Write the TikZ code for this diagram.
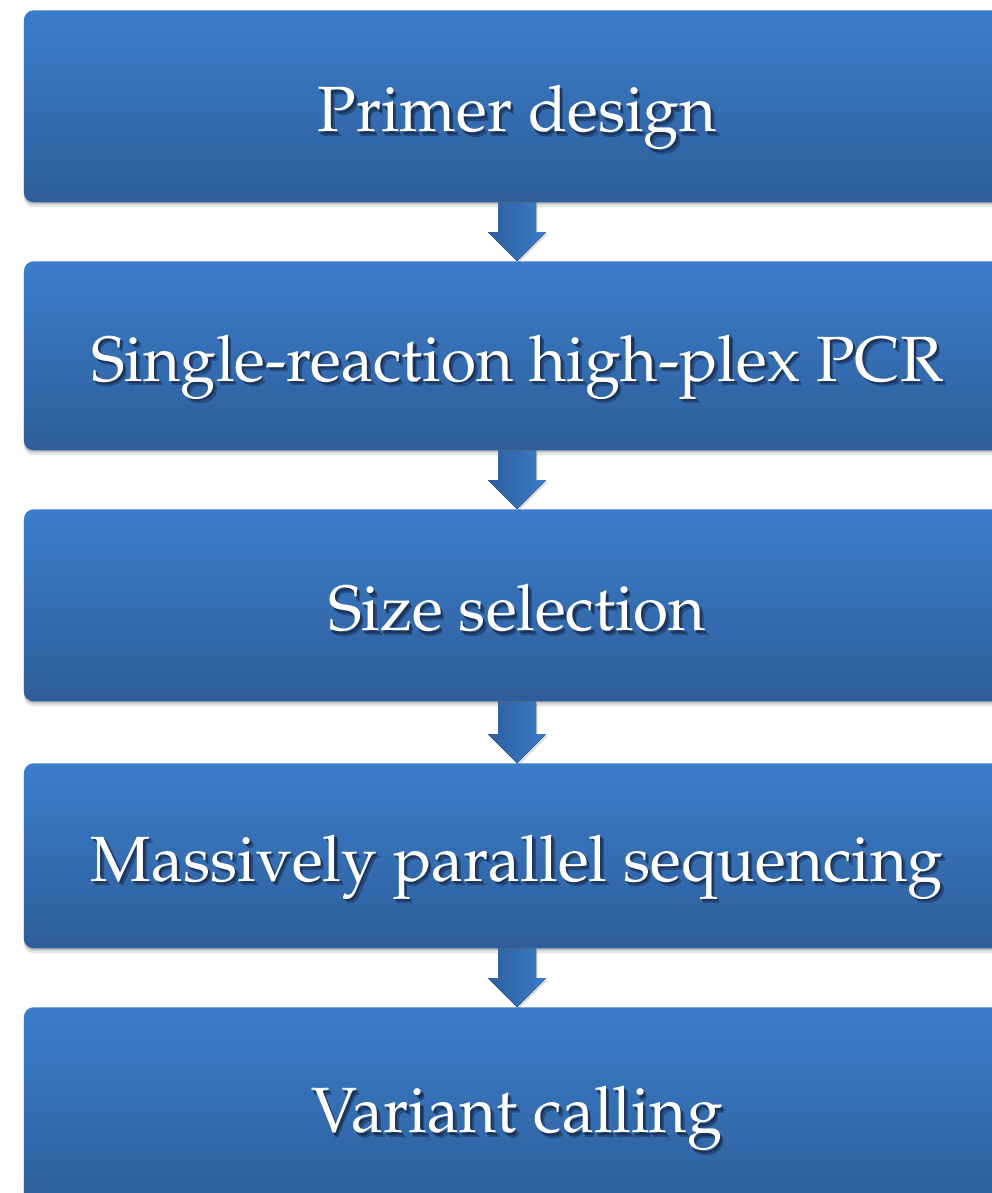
\documentclass[tikz,border=0pt]{standalone}
\usepackage[T1]{fontenc}
\renewcommand{\rmdefault}{ppl}
\usepackage{xcolor}
\usepackage{tikz}
\usetikzlibrary{calc, shadows}

\definecolor{boxtop}{RGB}{59,125,201}
\definecolor{boxbottom}{RGB}{46,94,155}
\definecolor{arrowleft}{RGB}{44,95,160}
\definecolor{arrowright}{RGB}{60,123,198}
\definecolor{txtshadow}{RGB}{26,52,92}

% white text with a soft dark shadow
\newcommand{\shadowtext}[1]{%
  \leavevmode
  \rlap{\hspace{2.6pt}\raisebox{-3.2pt}{\textcolor{txtshadow!45!boxbottom}{#1}}}%
  \rlap{\hspace{1.5pt}\raisebox{-2pt}{\textcolor{txtshadow}{#1}}}%
  \textcolor{white}{#1}}

\tikzset{
  stepbox/.style={rectangle, rounded corners=7pt, draw=none,
    top color=boxtop, bottom color=boxbottom,
    minimum width=24.65cm, anchor=north,
    text height=38pt, text depth=2pt,
    font=\fontsize{45.5}{55}\selectfont,
    drop shadow={shadow xshift=0pt, shadow yshift=-1.5pt, opacity=0.18, fill=black},
    drop shadow={shadow xshift=0pt, shadow yshift=-3.5pt, opacity=0.10, fill=black}},
  blockarrow/.style={left color=arrowleft, right color=arrowright,
    drop shadow={shadow xshift=1pt, shadow yshift=-1.5pt, opacity=0.15, fill=black}}
}

\begin{document}
\begin{tikzpicture}[x=0.025cm, y=-0.025cm]
    \useasboundingbox (0,0) rectangle (992,1193);
    \clip (0,0) rectangle (992,1193);

    % Steps
    \node[stepbox, minimum height=4.8cm]   (b1) at (517,10)   {\shadowtext{Primer design}};
    \node[stepbox, minimum height=4.725cm] (b2) at (517,261)  {\shadowtext{Single-reaction high-plex PCR}};
    \node[stepbox, minimum height=4.8cm]   (b3) at (517,509)  {\shadowtext{Size selection}};
    \node[stepbox, minimum height=4.625cm] (b4) at (517,763)  {\shadowtext{Massively parallel sequencing}};
    \node[stepbox, minimum height=5.0cm]   (b5) at (517,1007) {\shadowtext{Variant calling}};

    % Arrows between steps
    \foreach \from/\to in {b1/b2, b2/b3, b3/b4, b4/b5}
        \fill[blockarrow] ($(\from.south)+(-19,0)$) -- ($(\from.south)+(19,0)$)
            -- ($(\to.north)+(19,-29)$) -- ($(\to.north)+(29,-29)$) -- (\to.north)
            -- ($(\to.north)+(-29,-29)$) -- ($(\to.north)+(-19,-29)$) -- cycle;
\end{tikzpicture}
\end{document}
